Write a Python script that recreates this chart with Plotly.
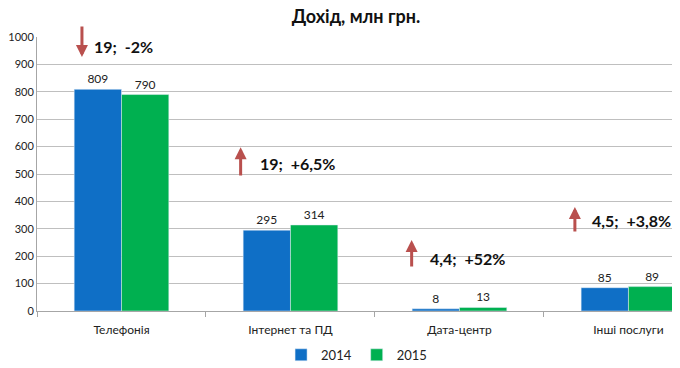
import plotly.graph_objects as go

categories = ["Телефонія", "Інтернет та ПД", "Дата-центр", "Інші послуги"]
series_2014 = [809, 295, 8, 85]
series_2015 = [790, 314, 13, 89]
change_labels = ["19;  -2%", "19;  +6,5%", "4,4;  +52%", "4,5;  +3,8%"]
# approximate positions (category offset, value) of the change notes
note_x = [-0.175, 0.808, 1.812, 2.772]
note_y = [967, 540, 193, 332]
arrow_x = [-0.234, 0.705, 1.717, 2.683]
arrow_tip = [927, 598, 259, 380]
arrow_tail = [1044, 489, 157, 285]

FONT = "Lato"
BLUE = "#0F6FC6"
GREEN = "#00B050"
ARROW = "#B9504E"
OFF = 8  # page body margin

fig = go.Figure()
fig.add_trace(go.Bar(name="2014", x=list(range(4)), y=series_2014, marker_color=BLUE,
                     text=[str(v) for v in series_2014], textposition="outside",
                     textfont=dict(size=12, color="#222"), cliponaxis=False))
fig.add_trace(go.Bar(name="2015", x=list(range(4)), y=series_2015, marker_color=GREEN,
                     text=[str(v) for v in series_2015], textposition="outside",
                     textfont=dict(size=12, color="#222"), cliponaxis=False))

annotations = []
for i in range(4):
    annotations.append(dict(x=note_x[i], y=note_y[i], xref="x", yref="y", text="<b>%s</b>" % change_labels[i],
                            showarrow=False, xanchor="left", yanchor="middle",
                            font=dict(family=FONT, size=16, color="#111")))
    annotations.append(dict(x=arrow_x[i], y=arrow_tip[i], ax=arrow_x[i], ay=arrow_tail[i],
                            xref="x", yref="y", axref="x", ayref="y", text="",
                            showarrow=True, arrowhead=2, arrowsize=0.8, arrowwidth=3,
                            arrowcolor=ARROW))

fig.update_layout(
    width=680, height=368,
    margin=dict(l=37 - OFF, r=OFF, t=37 - OFF, b=57 + OFF, autoexpand=False),
    paper_bgcolor="white", plot_bgcolor="white",
    font=dict(family=FONT, size=11, color="#222"),
    title=dict(text="<b>Дохід, млн грн.</b>", x=(356 - OFF) / 680, xanchor="center",
               y=1 - 2 / 368, yanchor="top", pad=dict(t=0, b=0),
               font=dict(family=FONT, size=18, color="#111")),
    barmode="group", bargap=0.44, bargroupgap=0,
    showlegend=True,
    legend=dict(orientation="h", x=0.497, xanchor="center", y=-0.16, yanchor="middle",
                font=dict(size=13), itemwidth=30, traceorder="normal"),
    annotations=annotations,
)
fig.update_xaxes(type="linear", tickmode="array", tickvals=list(range(4)), ticktext=categories,
                 range=[-0.5, 3.305], showline=True, linecolor="#A6A6A6", linewidth=1,
                 ticks="", showgrid=False, tickfont=dict(size=12, color="#222"),
                 ticklabelstandoff=8,
                 minor=dict(ticks="outside", tickmode="array", tickvals=[-0.5, 0.5, 1.5, 2.5],
                            ticklen=5, tickcolor="#A6A6A6", showgrid=False))
fig.update_yaxes(range=[0, 1000], dtick=100, showgrid=True, gridcolor="#BFBFBF", gridwidth=1,
                 showline=True, linecolor="#A6A6A6", linewidth=1, zeroline=False,
                 ticks="", tickfont=dict(size=11, color="#222"))

fig.write_html("out.html")
